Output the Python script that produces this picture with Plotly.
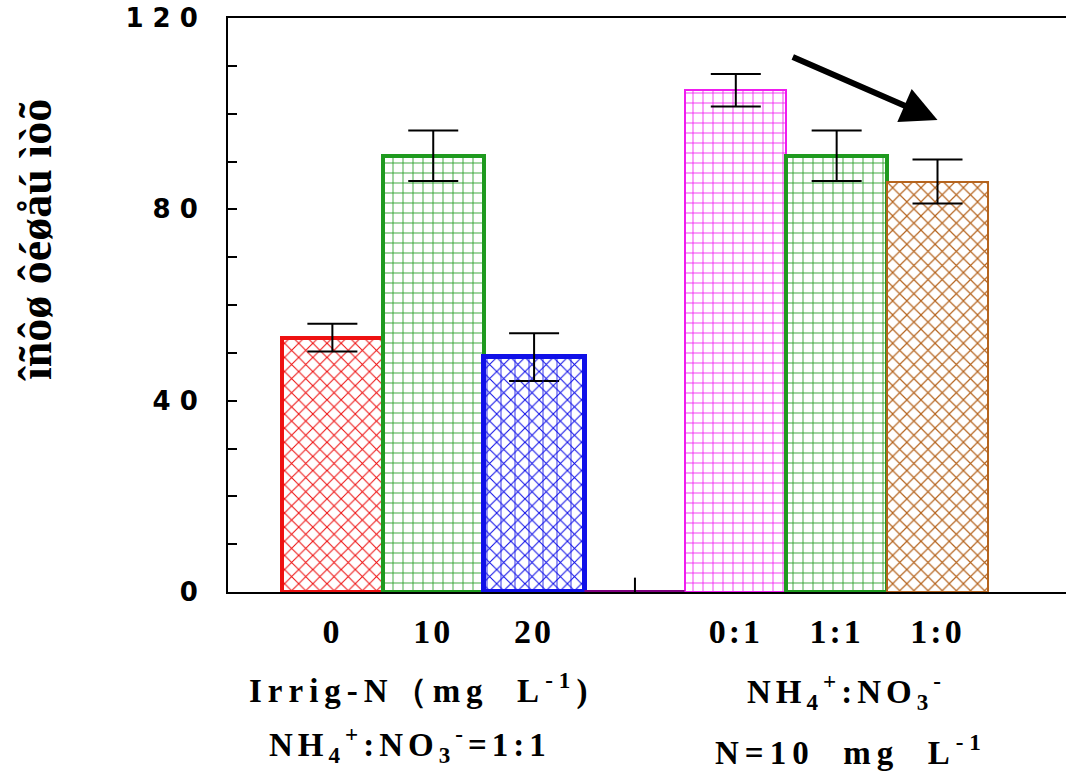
import plotly.graph_objects as go

# ---- data ----
positions = [0, 1, 2, 4, 5, 6]
tick_labels = ["0", "10", "20", "0:1", "1:1", "1:0"]
values = [53.2, 91.2, 49.1, 104.9, 91.2, 85.8]
errors = [2.9, 5.3, 5.0, 3.4, 5.3, 4.6]
gap_position = [3]
gap_value = [0]
gap_error = [3]
y_ticks = [0, 40, 80, 120]

colors = ["#ee1111", "#1f9a1f", "#1010e8", "#f01cf0", "#1f9a1f", "#b5641e"]
shapes = ["x", "+", "x", "+", "+", "x"]
line_widths = [4, 4, 5, 2, 4, 2]
solidities = [0.2, 0.16, 0.2, 0.16, 0.16, 0.22]

SERIF = "Liberation Serif, Times New Roman, serif"


def spaced(s, px):
    return f'<span style="letter-spacing:{px}px">{s}</span>'


fig = go.Figure()

fig.add_trace(go.Bar(
    x=positions, y=values, width=1,
    marker=dict(
        color="white",
        line=dict(color=colors, width=line_widths),
        pattern=dict(shape=shapes, fgcolor=colors, bgcolor="white",
                     size=10, solidity=solidities, fillmode="replace"),
    ),
    error_y=dict(type="data", array=errors, color="black", thickness=2, width=25),
    showlegend=False,
))

# extra vertical hatching on the blue bar
fig.add_trace(go.Bar(
    x=[positions[2]], y=[values[2]], width=1,
    marker=dict(
        color="rgba(0,0,0,0)",
        line=dict(width=0),
        pattern=dict(shape="|", fgcolor=colors[2], bgcolor="rgba(0,0,0,0)",
                     size=14, solidity=0.12, fillmode="overlay"),
    ),
    showlegend=False, hoverinfo="skip",
))

# empty gap bar (purple baseline)
fig.add_trace(go.Bar(
    x=gap_position, y=gap_value, width=1,
    marker=dict(color="#800080", line=dict(color="#800080", width=3)),
    error_y=dict(type="data", array=gap_error, arrayminus=[0], color="black",
                 thickness=2, width=0),
    showlegend=False,
))

fig.update_layout(
    width=1066, height=776,
    margin=dict(l=228, r=0, t=18, b=184),
    paper_bgcolor="white", plot_bgcolor="white",
    barmode="overlay", bargap=0,
    xaxis=dict(
        range=[-1.035, 7.274],
        tickvals=positions, ticktext=[spaced(t, 3) for t in tick_labels],
        showline=True, linecolor="black", linewidth=2, mirror=True,
        ticks="", showgrid=False, zeroline=False,
        tickfont=dict(family=SERIF, size=34, color="black", weight="bold"),
        ticklabelstandoff=8,
    ),
    yaxis=dict(
        range=[0, 120], tickvals=y_ticks,
        ticktext=[spaced(str(v), 9) for v in y_ticks],
        showline=True, linecolor="black", linewidth=2,
        ticks="inside", ticklen=9, tickwidth=2, tickcolor="black",
        minor=dict(dtick=10, ticks="inside", ticklen=9, tickwidth=2, tickcolor="black"),
        showgrid=False, zeroline=False,
        tickfont=dict(family="DejaVu Sans, Arial, sans-serif", size=26, color="black", weight="bold"),
        ticklabelstandoff=14,
    ),
    yaxis2=dict(
        overlaying="y", side="right", range=[0, 120], tickvals=[40, 80],
        ticks="inside", ticklen=4, tickwidth=2, tickcolor="black",
        showticklabels=False, showline=False, showgrid=False, zeroline=False,
    ),
)


def px_y(py):
    return (592 - py) / 574


lab_font = dict(family=SERIF, size=33, color="black", weight="bold")
annotations = [
    dict(text="îñôø ôéøåú ìòõ", xref="paper", yref="paper",
         x=(35 - 228) / 838, y=px_y(240), textangle=-90, showarrow=False,
         font=dict(family=SERIF, size=46, color="black", weight="bold"),
         xanchor="center", yanchor="middle"),
    dict(text=spaced("Irrig-N（mg  L<sup>-1</sup>)", 6), xref="x", yref="paper",
         x=0.88, y=px_y(688), showarrow=False, font=lab_font,
         xanchor="center", yanchor="middle"),
    dict(text=spaced("NH<sub>4</sub><sup>+</sup>:NO<sub>3</sub><sup>-</sup>=1:1", 5),
         xref="x", yref="paper", x=0.77, y=px_y(744), showarrow=False, font=lab_font,
         xanchor="center", yanchor="middle"),
    dict(text=spaced("NH<sub>4</sub><sup>+</sup>:NO<sub>3</sub><sup>-</sup>", 5),
         xref="x", yref="paper", x=5.10, y=px_y(691), showarrow=False, font=lab_font,
         xanchor="center", yanchor="middle"),
    dict(text=spaced("N=10  mg  L<sup>-1</sup>", 6), xref="x", yref="paper",
         x=5.14, y=px_y(750), showarrow=False, font=lab_font,
         xanchor="center", yanchor="middle"),
    dict(text="", x=6.0, y=98.7, xref="x", yref="y",
         ax=4.55, ay=112, axref="x", ayref="y",
         showarrow=True, arrowhead=2, arrowsize=1.2, arrowwidth=6, arrowcolor="black",
         standoff=0),
]
fig.update_layout(annotations=annotations)

fig.write_html("out.html")
